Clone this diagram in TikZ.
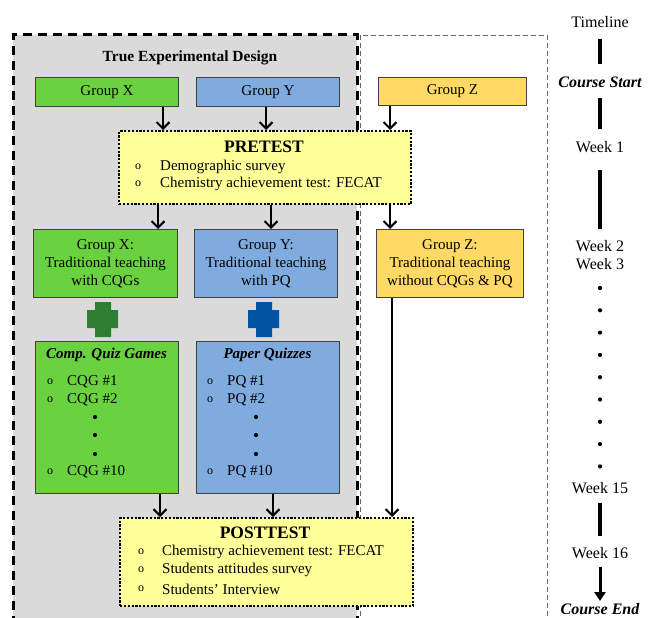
\documentclass[tikz,border=0pt]{standalone}
\usepackage{fontspec}
\setmainfont{Liberation Serif}
\usetikzlibrary{arrows.meta}
\definecolor{gbg}{RGB}{218,218,218}
\definecolor{gX}{RGB}{106,210,64}
\definecolor{bY}{RGB}{127,171,222}
\definecolor{yZ}{RGB}{255,217,102}
\definecolor{ltY}{RGB}{255,255,153}
\definecolor{dG}{RGB}{46,125,50}
\definecolor{dB}{RGB}{0,84,160}
\definecolor{edgec}{RGB}{64,64,64}
\begin{document}
\begin{tikzpicture}[x=1pt,y=-1pt,
  font=\fontsize{15}{18}\selectfont,
  grp/.style={draw=edgec, line width=0.8pt, inner sep=0pt, anchor=north west, align=center},
  testbox/.style={draw=black, fill=ltY, line width=2.4pt, dash pattern=on 2.2pt off 1.6pt, inner sep=0pt, anchor=north west},
  arr/.style={line width=2pt, -{Straight Barb[length=6.5pt,width=13pt,line width=2pt]}},
  bar/.style={line width=3.6pt},
  bul/.style={font=\fontsize{12}{12}\selectfont, inner sep=0pt},
  itm/.style={anchor=west, inner sep=0pt},
  ttl/.style={font=\fontsize{17.5}{20}\selectfont\bfseries, inner sep=0pt},
  wk/.style={inner sep=0pt, font=\fontsize{16}{18}\selectfont},
  dotc/.style={circle, fill=black, inner sep=0pt, minimum size=4.2pt}]
\useasboundingbox (0,0) rectangle (654,618);
\clip (0,0) rectangle (654,618);
% frames
\draw[black!60, line width=0.8pt, dash pattern=on 5pt off 3pt] (360,640) -- (360,35) -- (547,35) -- (547,640);
\draw[fill=gbg, line width=3pt, dash pattern=on 9pt off 6pt] (13,640) -- (13,35) -- (357,35) -- (357,640);
\node[inner sep=0pt, font=\fontsize{15.5}{18}\selectfont\bfseries] (ted) at (190,58) {True Experimental Design};
% first row groups
\node[grp, fill=gX, minimum width=143pt, minimum height=29pt] (gx) at (35,77) {Group X};
\node[grp, fill=bY, minimum width=143pt, minimum height=29pt] (gy) at (196,77) {Group Y};
\node[grp, fill=yZ, minimum width=148pt, minimum height=28pt] (gz) at (378,77) {Group Z};
% pretest
\node[testbox, minimum width=292pt, minimum height=73pt] (pre) at (118,130) {};
\node[ttl] (pret) at (264,147) {PRETEST};
\node[bul] (pb1) at (138,167) {o};
\node[itm] (pi1) at (160,167) {Demographic survey};
\node[bul] (pb2) at (138,184) {o};
\node[itm] (pi2) at (160,184) {Chemistry achievement test: FECAT};
% second row
\node[grp, fill=gX, minimum width=144pt, minimum height=68pt] (gx2) at (33,229) {Group X:\\Traditional teaching\\with CQGs};
\node[grp, fill=bY, minimum width=143pt, minimum height=68pt] (gy2) at (194,229) {Group Y:\\Traditional teaching\\with PQ};
\node[grp, fill=yZ, minimum width=147pt, minimum height=68pt] (gz2) at (376,229) {Group Z:\\Traditional teaching\\without CQGs \& PQ};
% plus signs
\fill[dG] (95,302) -- (111,302) -- (111,310) -- (118,310) -- (118,328) -- (111,328) -- (111,337) -- (95,337) -- (95,328) -- (87,328) -- (87,310) -- (95,310) -- cycle;
\fill[dB] (256,302) -- (272,302) -- (272,310) -- (279,310) -- (279,328) -- (272,328) -- (272,337) -- (256,337) -- (256,328) -- (248,328) -- (248,310) -- (256,310) -- cycle;
% quiz boxes
\node[grp, fill=gX, minimum width=143pt, minimum height=152pt] (cqg) at (35,341) {};
\node[inner sep=0pt, font=\fontsize{15}{18}\selectfont\bfseries\itshape] (cqgt) at (106.5,355) {Comp. Quiz Games};
\node[bul] (cb1) at (50,382) {o};
\node[itm] (ci1) at (67,382) {CQG \#1};
\node[bul] (cb2) at (50,400) {o};
\node[itm] (ci2) at (67,400) {CQG \#2};
\node[dotc] (cd1) at (95,417) {};
\node[dotc] (cd2) at (95,435) {};
\node[dotc] (cd3) at (95,454) {};
\node[bul] (cb3) at (50,472) {o};
\node[itm] (ci3) at (67,472) {CQG \#10};
\node[grp, fill=bY, minimum width=143pt, minimum height=152pt] (pq) at (196,341) {};
\node[inner sep=0pt, font=\fontsize{15}{18}\selectfont\bfseries\itshape] (pqt) at (267.5,355) {Paper Quizzes};
\node[bul] (qb1) at (210,382) {o};
\node[itm] (qi1) at (227,382) {PQ \#1};
\node[bul] (qb2) at (210,400) {o};
\node[itm] (qi2) at (227,400) {PQ \#2};
\node[dotc] (qd1) at (256,417) {};
\node[dotc] (qd2) at (256,435) {};
\node[dotc] (qd3) at (256,454) {};
\node[bul] (qb3) at (210,472) {o};
\node[itm] (qi3) at (227,472) {PQ \#10};
% posttest
\node[testbox, minimum width=293pt, minimum height=88pt] (post) at (119,517) {};
\node[ttl] (postt) at (265,533) {POSTTEST};
\node[bul] (sb1) at (141,552) {o};
\node[itm] (si1) at (162,552) {Chemistry achievement test: FECAT};
\node[bul] (sb2) at (141,570) {o};
\node[itm] (si2) at (162,570) {Students attitudes survey};
\node[bul] (sb3) at (141,589) {o};
\node[itm] (si3) at (162,589) {Students' Interview};
% connector x positions
\coordinate (ax1) at (163,0);
\coordinate (ay1) at (266,0);
\coordinate (az1) at (390,0);
\coordinate (ax2) at (158,0);
\coordinate (ay2) at (271,0);
\coordinate (ax3) at (160,0);
\coordinate (ay3) at (273,0);
\coordinate (az3) at (392,0);
\draw[arr] (gx.south -| ax1) -- (pre.north -| ax1);
\draw[arr] (gy.south -| ay1) -- (pre.north -| ay1);
\draw[arr] (gz.south -| az1) -- (pre.north -| az1);
\draw[arr] (pre.south -| ax2) -- (gx2.north -| ax2);
\draw[arr] (pre.south -| ay2) -- (gy2.north -| ay2);
\draw[arr] (pre.south -| az1) -- (gz2.north -| az1);
\draw[arr] (cqg.south -| ax3) -- (post.north -| ax3);
\draw[arr] (pq.south -| ay3) -- (post.north -| ay3);
\draw[arr] (gz2.south -| az3) -- (post.north -| az3);
% timeline
\node[wk] (tl) at (600,22) {Timeline};
\node[wk, font=\fontsize{16}{18}\selectfont\bfseries\itshape] (cs) at (600,82) {Course Start};
\node[wk] (w1) at (600,147) {Week 1};
\node[wk] (w2) at (600,246) {Week 2};
\node[wk] (w3) at (600,264) {Week 3};
\foreach \k in {0,...,8} {\node[dotc] (td\k) at (600,288+22.3*\k) {};}
\node[wk] (w15) at (600,488) {Week 15};
\node[wk] (w16) at (600,553) {Week 16};
\node[wk, font=\fontsize{16}{18}\selectfont\bfseries\itshape] (ce) at (600,609) {Course End};
\draw[bar, shorten <=17pt, shorten >=18pt] (tl.center) -- (cs.center);
\draw[bar, shorten <=16pt, shorten >=18pt] (cs.center) -- (w1.center);
\draw[bar, shorten <=23pt, shorten >=17pt] (w1.center) -- (w2.center);
\draw[bar, shorten <=15pt, shorten >=17pt] (w15.center) -- (w16.center);
\draw[line width=3pt, -{Triangle[length=9pt,width=11pt]}, shorten <=14pt, shorten >=8pt] (w16.center) -- (ce.center);
\end{tikzpicture}
\end{document}
